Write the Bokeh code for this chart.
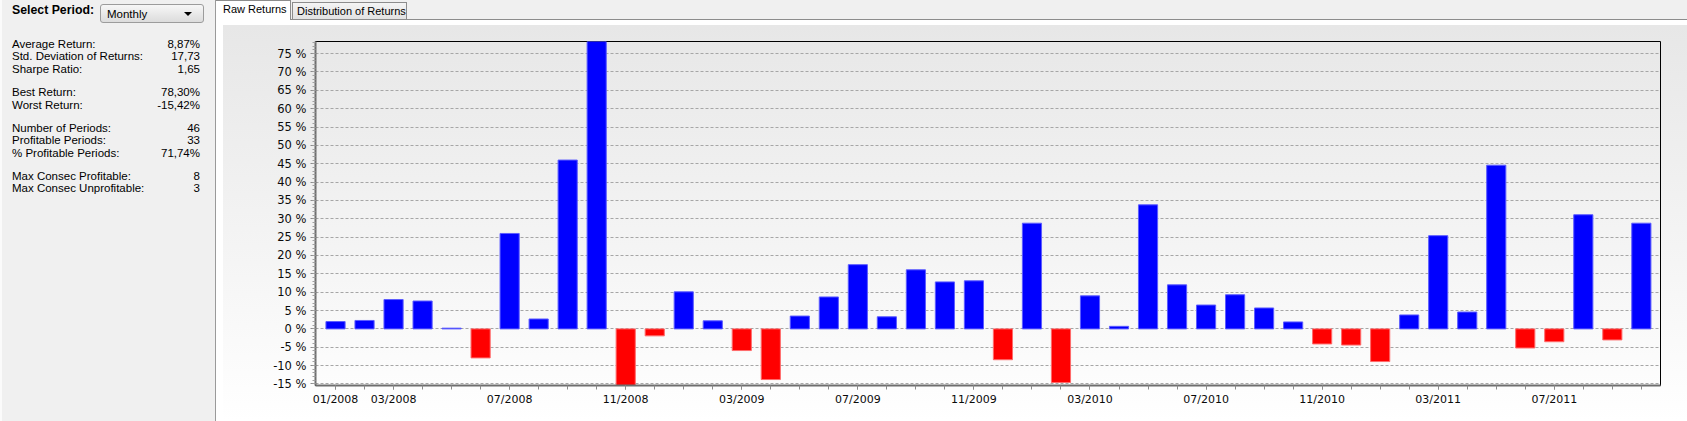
from bokeh.plotting import figure
from bokeh.models import ColumnDataSource, Div, Range1d, FixedTicker
from bokeh.layouts import row, column
from bokeh.embed import file_html
from bokeh.resources import INLINE

# ---------------- data ----------------
months = [
    "01/2008", "02/2008", "03/2008", "04/2008", "05/2008", "06/2008",
    "07/2008", "08/2008", "09/2008", "10/2008", "11/2008", "12/2008",
    "01/2009", "02/2009", "03/2009", "04/2009", "05/2009", "06/2009",
    "07/2009", "08/2009", "09/2009", "10/2009", "11/2009", "12/2009",
    "01/2010", "02/2010", "03/2010", "04/2010", "05/2010", "06/2010",
    "07/2010", "08/2010", "09/2010", "10/2010", "11/2010", "12/2010",
    "01/2011", "02/2011", "03/2011", "04/2011", "05/2011", "06/2011",
    "07/2011", "08/2011", "09/2011", "10/2011",
]
returns = [
    2.0, 2.3, 8.0, 7.6, 0.2, -7.9, 26.0, 2.7, 46.0, 78.30,
    -15.42, -1.9, 10.1, 2.2, -5.9, -13.8, 3.5, 8.7, 17.5, 3.3,
    16.1, 12.8, 13.1, -8.4, 28.8, -14.6, 9.0, 0.7, 33.8, 12.0,
    6.5, 9.3, 5.7, 1.9, -4.1, -4.4, -8.9, 3.8, 25.4, 4.6,
    44.6, -5.2, -3.5, 31.1, -3.0, 28.8,
]
x_tick_labels = ["01/2008", "03/2008", "07/2008", "11/2008", "03/2009", "07/2009",
                 "11/2009", "03/2010", "07/2010", "11/2010", "03/2011", "07/2011"]
y_tick_values = [-15, -10, -5, 0, 5, 10, 15, 20, 25, 30, 35, 40, 45, 50, 55, 60, 65, 70, 75]

stat_labels = ["Average Return:", "Std. Deviation of Returns:", "Sharpe Ratio:",
               "Best Return:", "Worst Return:",
               "Number of Periods:", "Profitable Periods:", "% Profitable Periods:",
               "Max Consec Profitable:", "Max Consec Unprofitable:"]
stat_values = ["8,87%", "17,73", "1,65",
               "78,30%", "-15,42%",
               "46", "33", "71,74%",
               "8", "3"]
stat_groups = [3, 2, 3, 2]
tab_labels = ["Raw Returns", "Distribution of Returns"]
period_label = "Select Period:"
period_choice = "Monthly"

# ---------------- style ----------------
POS_FILL, POS_LINE = "#0000ff", "#5c5cff"
NEG_FILL, NEG_LINE = "#ff0000", "#ff6a6a"
UI_FONT = "'Liberation Sans', Arial, sans-serif"
AX_FONT = "DejaVu Sans"

PAGE_W, PAGE_H = 1687, 421
LEFT_W = 216
TABS_H = 25
SPACER_W = 7
FIG_W, FIG_H = PAGE_W - LEFT_W - SPACER_W, PAGE_H - TABS_H

# ---------------- chart ----------------
xs = list(range(len(returns)))
src = ColumnDataSource(dict(
    x=xs,
    top=returns,
    fill=[POS_FILL if r >= 0 else NEG_FILL for r in returns],
    line=[POS_LINE if r >= 0 else NEG_LINE for r in returns],
))

p = figure(width=FIG_W, height=FIG_H,
           x_range=Range1d(-0.69, len(returns) - 1 + 0.66),
           y_range=Range1d(min(returns), max(returns)),
           output_backend="svg", toolbar_location=None, tools="",
           min_border_left=92, min_border_right=27,
           min_border_top=16, min_border_bottom=36, margin=0,
           styles={"background": "linear-gradient(to bottom, #e7e7e7 0%, #f5f5f5 60%, #ffffff 100%)"})
p.border_fill_alpha = 0
p.background_fill_alpha = 0
p.outline_line_color = "black"
p.outline_line_width = 1

p.vbar(x="x", top="top", bottom=0, width=0.66, fill_color="fill",
       line_color="line", line_width=1, source=src)

# y axis
p.yaxis.ticker = FixedTicker(ticks=y_tick_values,
                             minor_ticks=list(range(y_tick_values[0], y_tick_values[-1] + 4)))
p.yaxis.major_label_overrides = {v: f"{v} %" for v in y_tick_values}
p.yaxis.axis_line_color = "#6e6e6e"
p.yaxis.axis_line_width = 2
p.yaxis.major_tick_line_color = "#8a8a8a"
p.yaxis.minor_tick_line_color = "#a0a0a0"
p.yaxis.major_tick_out = 5
p.yaxis.major_tick_in = 0
p.yaxis.minor_tick_out = 3
p.yaxis.minor_tick_in = 0
p.yaxis.major_label_standoff = 4
p.yaxis.major_label_text_font = AX_FONT
p.yaxis.major_label_text_font_size = "11.5px"
p.yaxis.major_label_text_color = "#0a0a0a"

# x axis
x_tick_idx = [months.index(m) for m in x_tick_labels]
p.xaxis.ticker = FixedTicker(ticks=x_tick_idx, minor_ticks=xs)
p.xaxis.major_label_overrides = {i: months[i] for i in x_tick_idx}
p.xaxis.axis_line_color = "#6e6e6e"
p.xaxis.axis_line_width = 2
p.xaxis.major_tick_line_color = "#8a8a8a"
p.xaxis.minor_tick_line_color = "#8a8a8a"
p.xaxis.major_tick_out = 4
p.xaxis.major_tick_in = 0
p.xaxis.minor_tick_out = 4
p.xaxis.minor_tick_in = 0
p.xaxis.major_label_standoff = 3
p.xaxis.major_label_text_font = AX_FONT
p.xaxis.major_label_text_font_size = "11px"
p.xaxis.major_label_text_color = "#0a0a0a"

p.xgrid.visible = False
p.ygrid.ticker = FixedTicker(ticks=y_tick_values)
p.ygrid.grid_line_color = "#a6a6a6"
p.ygrid.grid_line_dash = "3 2"
p.ygrid.grid_line_width = 1

# ---------------- left panel ----------------
parts = [
    f'<div style="position:relative;width:{LEFT_W}px;height:{PAGE_H}px;background:#f0f0f0;'
    f'box-sizing:border-box;border-right:1px solid #9a9a9a;border-left:2px solid #fbfbfb;'
    f'font-family:{UI_FONT};font-size:11.5px;color:#000;overflow:hidden;">',
    f'<div style="position:absolute;left:10px;top:3px;line-height:14px;font-size:12.3px;'
    f'font-weight:bold;white-space:nowrap;">{period_label}</div>',
    '<div style="position:absolute;left:98px;top:4px;width:104px;height:19px;box-sizing:border-box;'
    'border:1px solid #9c9c9c;border-radius:3px;background:linear-gradient(#f7f7f7,#dcdcdc);">'
    f'<span style="position:absolute;left:6px;top:2px;line-height:14px;white-space:nowrap;">{period_choice}</span>'
    '<div style="position:absolute;left:83px;top:7px;width:0;height:0;border-left:4px solid transparent;'
    'border-right:4px solid transparent;border-top:4px solid #000;"></div></div>',
]
center = 44.0
idx = 0
for gi, g in enumerate(stat_groups):
    for k in range(g):
        top = center - 7
        parts.append(f'<div style="position:absolute;left:10px;top:{top:.1f}px;line-height:14px;'
                     f'white-space:nowrap;">{stat_labels[idx]}</div>')
        parts.append(f'<div style="position:absolute;right:15px;top:{top:.1f}px;line-height:14px;'
                     f'text-align:right;white-space:nowrap;">{stat_values[idx]}</div>')
        idx += 1
        if k < g - 1:
            center += 12.4
    center += 23.3
parts.append('</div>')
left_div = Div(text="".join(parts), width=LEFT_W, height=PAGE_H, margin=0)

# ---------------- tabs ----------------
RW = FIG_W + SPACER_W
tabs_html = (
    f'<div style="position:relative;width:{RW}px;height:{TABS_H}px;background:#f0f0f0;'
    f'font-family:{UI_FONT};font-size:11px;color:#000;overflow:hidden;">'
    f'<div style="position:absolute;left:0;top:19px;width:{RW}px;height:6px;background:#ffffff;'
    'border-top:1px solid #8c8c8c;"></div>'
    '<div style="position:absolute;left:0;top:0;width:75px;height:20px;box-sizing:border-box;'
    'background:#ffffff;border:1px solid #8c8c8c;border-bottom:none;border-left:none;'
    f'padding-left:7px;line-height:17px;white-space:nowrap;">{tab_labels[0]}</div>'
    '<div style="position:absolute;left:76px;top:2px;width:115px;height:17px;box-sizing:border-box;'
    'background:linear-gradient(#f4f4f4,#e2e2e2);border:1px solid #8c8c8c;border-bottom:none;'
    f'padding-left:4px;line-height:16px;white-space:nowrap;">{tab_labels[1]}</div>'
    '</div>'
)
tabs_div = Div(text=tabs_html, width=RW, height=TABS_H, margin=0)
spacer = Div(text="", width=SPACER_W, height=FIG_H, margin=0,
             styles={"background-color": "#ffffff"})

layout = row(left_div, column(tabs_div, row(spacer, p, margin=0), margin=0), margin=0)

with open("out.html", "w") as f:
    f.write(file_html(layout, INLINE))
